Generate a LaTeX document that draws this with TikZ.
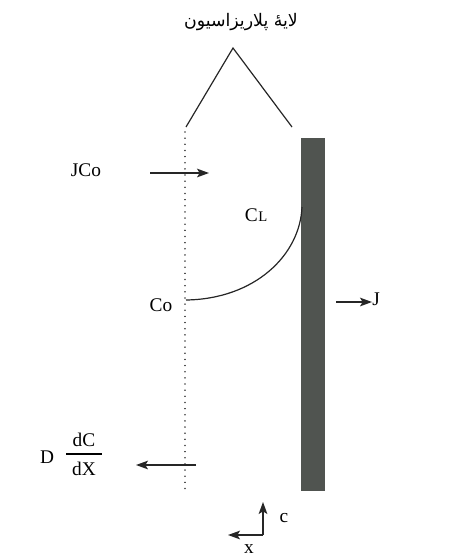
\documentclass[tikz,border=0pt]{standalone}
\usepackage{fontspec}
\setmainfont{Liberation Serif}
\newfontfamily\arabicfont[Script=Arabic]{DejaVu Sans}
\TeXXeTstate=1
\usetikzlibrary{arrows.meta}
\begin{document}
\begin{tikzpicture}[x=0.75pt,y=-0.75pt,
  lbl/.style={font=\fontsize{14.5}{17}\selectfont, inner sep=0pt},
  sublbl/.style={font=\fontsize{11}{12}\selectfont, inner sep=0pt},
  ln/.style={line width=0.9pt, black!85},
  arr/.style={ln, -{Stealth[length=9pt,width=6.5pt,inset=2pt]}},
  dotline/.style={line width=1.2pt, black!75, line cap=round, dash pattern=on 0.01pt off 4.6pt},
  electrode/.style={fill={rgb,255:red,80;green,84;blue,80}, draw=none}]
\useasboundingbox (0,0) rectangle (453,558);
% title and bracket
\node[font=\arabicfont\fontsize{13}{15}\selectfont, inner sep=0pt] (title) at (241,22) {\beginR لایهٔ پلاریزاسیون\endR};
\coordinate (apex) at (233,48);
\coordinate (tl) at (186,127);
\coordinate (tr) at (292,127);
\draw[ln] (tl) -- (apex) -- (tr);
% dotted boundary
\coordinate (dtop) at (185,132);
\coordinate (dbot) at (185,492);
\draw[dotline] (dtop) -- (dbot);
% electrode
\path[electrode] (301,138) rectangle (325,491);
% JCo
\node[lbl] (jco) at (86,170) {JCo};
\coordinate (jcoA) at (150,173);
\coordinate (jcoB) at (209,173);
\draw[arr] (jcoA) -- (jcoB);
% concentration profile
\node[lbl, anchor=base east] (cl) at (258,221) {C};
\node[sublbl, anchor=base west] (cll) at (cl.base east) {L};
\node[lbl] (co) at (161,305) {Co};
\coordinate (c0) at (186,300);
\coordinate (c1) at (302,207);
\draw[ln] (c0) .. controls (255,299) and (300,255) .. (c1);
% J
\coordinate (jA) at (336,302);
\coordinate (jB) at (372,302);
\draw[arr] (jA) -- (jB);
\node[lbl, anchor=west] (j) at (372,299) {J};
% D dC/dX
\node[lbl] (dd) at (47,457) {D};
\node[lbl] (dc) at (84,440) {dC};
\node[lbl] (dx) at (84,469) {dX};
\coordinate (fl) at (66,454);
\coordinate (fr) at (102,454);
\draw[line width=0.8pt] (fl) -- (fr);
\coordinate (dA) at (196,465);
\coordinate (dB) at (136,465);
\draw[arr] (dA) -- (dB);
% axes
\coordinate (ax0) at (263,535);
\coordinate (axc) at (263,502);
\coordinate (axx) at (228,535);
\draw[arr] (ax0) -- (axc);
\draw[arr] (ax0) -- (axx);
\node[lbl] (cc) at (284,518) {c};
\node[lbl] (xx) at (249,549) {x};
\end{tikzpicture}
\end{document}
